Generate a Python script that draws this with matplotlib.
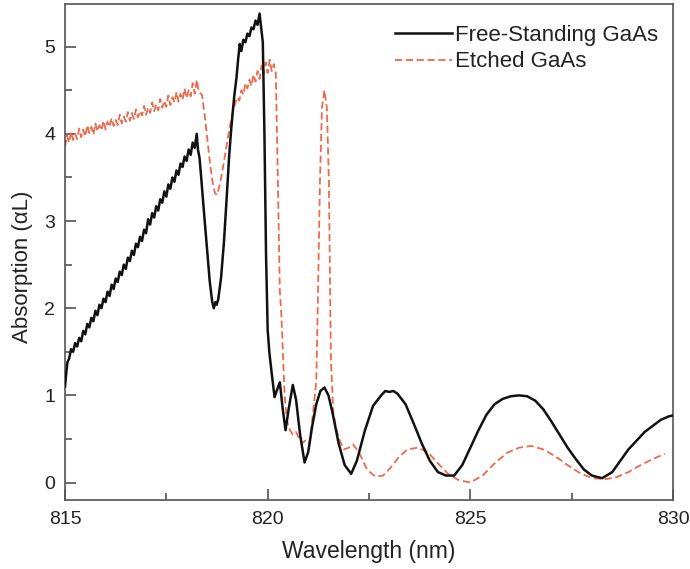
import matplotlib
matplotlib.use("Agg")
import matplotlib.pyplot as plt
from matplotlib.ticker import MultipleLocator

plt.rcParams['font.family'] = ['Liberation Sans', 'DejaVu Sans']

# Free-Standing GaAs (black, solid)
fs_wl = [815.00, 815.03, 815.06, 815.10, 815.15, 815.20, 815.25, 815.30, 815.35, 815.40,
         815.45, 815.50, 815.55, 815.60, 815.65, 815.70, 815.75, 815.80, 815.85, 815.90,
         815.95, 816.00, 816.05, 816.10, 816.15, 816.20, 816.25, 816.30, 816.35, 816.40,
         816.45, 816.50, 816.55, 816.60, 816.65, 816.70, 816.75, 816.80, 816.85, 816.90,
         816.95, 817.00, 817.05, 817.10, 817.15, 817.20, 817.25, 817.30, 817.35, 817.40,
         817.45, 817.50, 817.55, 817.60, 817.65, 817.70, 817.75, 817.80, 817.85, 817.90,
         817.95, 818.00, 818.05, 818.10, 818.15, 818.20, 818.25, 818.28, 818.32,
         818.36, 818.42, 818.50, 818.57, 818.63, 818.67, 818.71, 818.74, 818.78, 818.85,
         818.92, 818.98, 819.05, 819.10, 819.14, 819.18, 819.23, 819.27, 819.31, 819.35,
         819.40, 819.45, 819.50, 819.55, 819.60, 819.65, 819.70, 819.75, 819.80, 819.84,
         819.88, 819.92, 819.96, 820.00, 820.04, 820.10, 820.17, 820.22, 820.30, 820.37,
         820.44, 820.52, 820.62, 820.70, 820.80, 820.91, 821.00, 821.10, 821.20, 821.30,
         821.40, 821.50, 821.60, 821.75, 821.90, 822.06, 822.20, 822.40, 822.60, 822.80,
         822.90, 823.00, 823.10, 823.20, 823.40, 823.60, 823.80, 824.00, 824.20, 824.40,
         824.60, 824.80, 825.00, 825.20, 825.40, 825.60, 825.80, 826.00, 826.20, 826.40,
         826.60, 826.80, 827.00, 827.20, 827.40, 827.60, 827.80, 828.00, 828.25, 828.50,
         828.70, 828.90, 829.10, 829.30, 829.50, 829.70, 829.90, 830.00]
fs_abs = [1.10, 1.25, 1.38, 1.42, 1.53, 1.50, 1.60, 1.56, 1.66, 1.62,
          1.74, 1.70, 1.82, 1.78, 1.89, 1.85, 1.97, 1.92, 2.04, 2.00,
          2.11, 2.07, 2.19, 2.14, 2.27, 2.22, 2.34, 2.30, 2.42, 2.38,
          2.50, 2.45, 2.58, 2.54, 2.66, 2.61, 2.74, 2.70, 2.82, 2.77,
          2.90, 2.86, 3.02, 2.96, 3.09, 3.04, 3.17, 3.12, 3.25, 3.21,
          3.34, 3.28, 3.42, 3.37, 3.50, 3.45, 3.58, 3.53, 3.66, 3.62,
          3.74, 3.69, 3.82, 3.76, 3.90, 3.84, 4.00, 3.82, 3.72,
          3.50, 3.15, 2.70, 2.31, 2.08, 2.00, 2.07, 2.04, 2.10, 2.35,
          2.75, 3.20, 3.75, 4.05, 4.26, 4.45, 4.64, 4.85, 5.03, 4.95,
          5.08, 5.05, 5.15, 5.12, 5.22, 5.20, 5.30, 5.25, 5.38, 5.22,
          5.05, 4.00, 2.60, 1.75, 1.50, 1.25, 0.98, 1.05, 1.15, 0.85,
          0.60, 0.85, 1.12, 0.95, 0.55, 0.23, 0.35, 0.65, 0.90, 1.05,
          1.09, 1.00, 0.80, 0.45, 0.20, 0.10, 0.25, 0.60, 0.88, 1.00,
          1.05, 1.04, 1.05, 1.02, 0.90, 0.68, 0.45, 0.25, 0.12, 0.08,
          0.08, 0.20, 0.40, 0.60, 0.78, 0.90, 0.96, 0.99, 1.00, 0.99,
          0.94, 0.84, 0.70, 0.55, 0.40, 0.27, 0.15, 0.08, 0.05, 0.12,
          0.25, 0.38, 0.48, 0.58, 0.65, 0.72, 0.76, 0.77]

# Etched GaAs (red, dashed)
et_wl = [815.00, 815.05, 815.10, 815.15, 815.20, 815.25, 815.30, 815.35, 815.40, 815.45,
         815.50, 815.55, 815.60, 815.65, 815.70, 815.75, 815.80, 815.85, 815.90, 815.95,
         816.00, 816.05, 816.10, 816.15, 816.20, 816.25, 816.30, 816.35, 816.40, 816.45,
         816.50, 816.55, 816.60, 816.65, 816.70, 816.75, 816.80, 816.85, 816.90, 816.95,
         817.00, 817.05, 817.10, 817.15, 817.20, 817.25, 817.30, 817.35, 817.40, 817.45,
         817.50, 817.55, 817.60, 817.65, 817.70, 817.75, 817.80, 817.85, 817.90, 817.95,
         818.00, 818.05, 818.10, 818.15, 818.20, 818.25, 818.30,
         818.38, 818.45, 818.52, 818.58, 818.64, 818.70, 818.75, 818.82, 818.90, 818.98,
         819.06, 819.14, 819.20, 819.25, 819.30, 819.35, 819.40, 819.45, 819.50, 819.55,
         819.60, 819.65, 819.70, 819.75, 819.80, 819.85, 819.90, 819.95, 820.00, 820.05,
         820.10, 820.15, 820.20, 820.25, 820.30, 820.34, 820.42, 820.48, 820.55, 820.62,
         820.70, 820.78, 820.85, 820.92, 821.03, 821.12, 821.20, 821.25, 821.29, 821.34,
         821.40, 821.46, 821.51, 821.56, 821.62, 821.70, 821.78, 821.88, 822.00, 822.10,
         822.25, 822.45, 822.65, 822.85, 823.05, 823.25, 823.45, 823.70, 823.95, 824.20,
         824.45, 824.70, 825.00, 825.30, 825.60, 825.90, 826.20, 826.50, 826.80, 827.10,
         827.40, 827.70, 828.00, 828.35, 828.60, 828.90, 829.20, 829.50, 829.80]
et_abs = [3.85, 3.98, 3.90, 4.02, 3.93, 4.00, 3.94, 4.06, 3.96, 4.05,
          3.97, 4.10, 4.01, 4.08, 3.99, 4.12, 4.03, 4.10, 4.04, 4.15,
          4.05, 4.14, 4.08, 4.18, 4.09, 4.16, 4.10, 4.22, 4.12, 4.20,
          4.14, 4.25, 4.15, 4.24, 4.17, 4.28, 4.19, 4.26, 4.21, 4.32,
          4.22, 4.30, 4.24, 4.36, 4.26, 4.34, 4.27, 4.40, 4.30, 4.38,
          4.31, 4.44, 4.33, 4.42, 4.36, 4.48, 4.37, 4.46, 4.39, 4.52,
          4.41, 4.50, 4.43, 4.58, 4.46, 4.62, 4.48,
          4.45, 4.20, 3.90, 3.65, 3.45, 3.32, 3.30, 3.42, 3.62, 3.85,
          4.07, 4.25, 4.35, 4.42, 4.38, 4.50, 4.45, 4.58, 4.52, 4.62,
          4.55, 4.68, 4.60, 4.72, 4.63, 4.78, 4.68, 4.82, 4.70, 4.85,
          4.72, 4.80, 4.70, 3.50, 2.20, 1.90, 0.98, 0.70, 0.60, 0.55,
          0.58, 0.50, 0.45, 0.48, 0.45, 0.80, 1.17, 2.40, 3.46, 4.30,
          4.50, 4.30, 3.46, 1.40, 0.80, 0.60, 0.48, 0.38, 0.40, 0.44,
          0.35, 0.15, 0.07, 0.08, 0.18, 0.30, 0.38, 0.40, 0.35, 0.22,
          0.10, 0.03, 0.00, 0.08, 0.22, 0.34, 0.40, 0.42, 0.38, 0.30,
          0.20, 0.11, 0.05, 0.04, 0.06, 0.12, 0.20, 0.27, 0.33]

x_ticks = [815, 820, 825, 830]
y_ticks = [0, 1, 2, 3, 4, 5]

fig = plt.figure(figsize=(6.9, 5.69), dpi=100)
ax = fig.add_axes([0.0942, 0.1213, 0.8812, 0.8717])

ax.plot(fs_wl, fs_abs, color='#111111', lw=1.8, label='Free-Standing GaAs', zorder=3)
ax.plot(et_wl, et_abs, color='#ec6a4e', lw=1.3, dashes=(4, 2), label='Etched GaAs', zorder=2)

ax.set_xlim(815, 830)
ax.set_ylim(-0.2, 5.49)
ax.set_xticks(x_ticks)
ax.set_yticks(y_ticks)
ax.xaxis.set_minor_locator(MultipleLocator(2.5))
ax.yaxis.set_minor_locator(MultipleLocator(0.5))
ax.tick_params(which='major', direction='in', length=8, width=1.1, color='#444444',
               labelsize=14, top=False, right=False)
ax.tick_params(which='minor', direction='in', length=5, width=1.1, color='#444444',
               top=False, right=False)
ax.tick_params(axis='x', which='major', pad=8)
ax.tick_params(axis='y', which='major', pad=7)
for s in ax.spines.values():
    s.set_color('#555555')
    s.set_linewidth(1.2)

ax.set_xlabel('Wavelength (nm)', fontsize=16.5, color='#222222', va='top')
ax.set_ylabel('Absorption (αL)', fontsize=16, color='#222222')
ax.xaxis.set_label_coords(0.5, -0.08)
ax.yaxis.set_label_coords(-0.053, 0.47)
for lbl in ax.get_xticklabels() + ax.get_yticklabels():
    lbl.set_color('#222222')

leg = ax.legend(loc='upper right', frameon=False, fontsize=16, handlelength=2.6,
                handletextpad=0.1, labelspacing=0.25, borderpad=0, borderaxespad=0,
                bbox_to_anchor=(0.975, 0.958))
for t in leg.get_texts():
    t.set_color('#222222')

fig.savefig('out.png', dpi=100)
